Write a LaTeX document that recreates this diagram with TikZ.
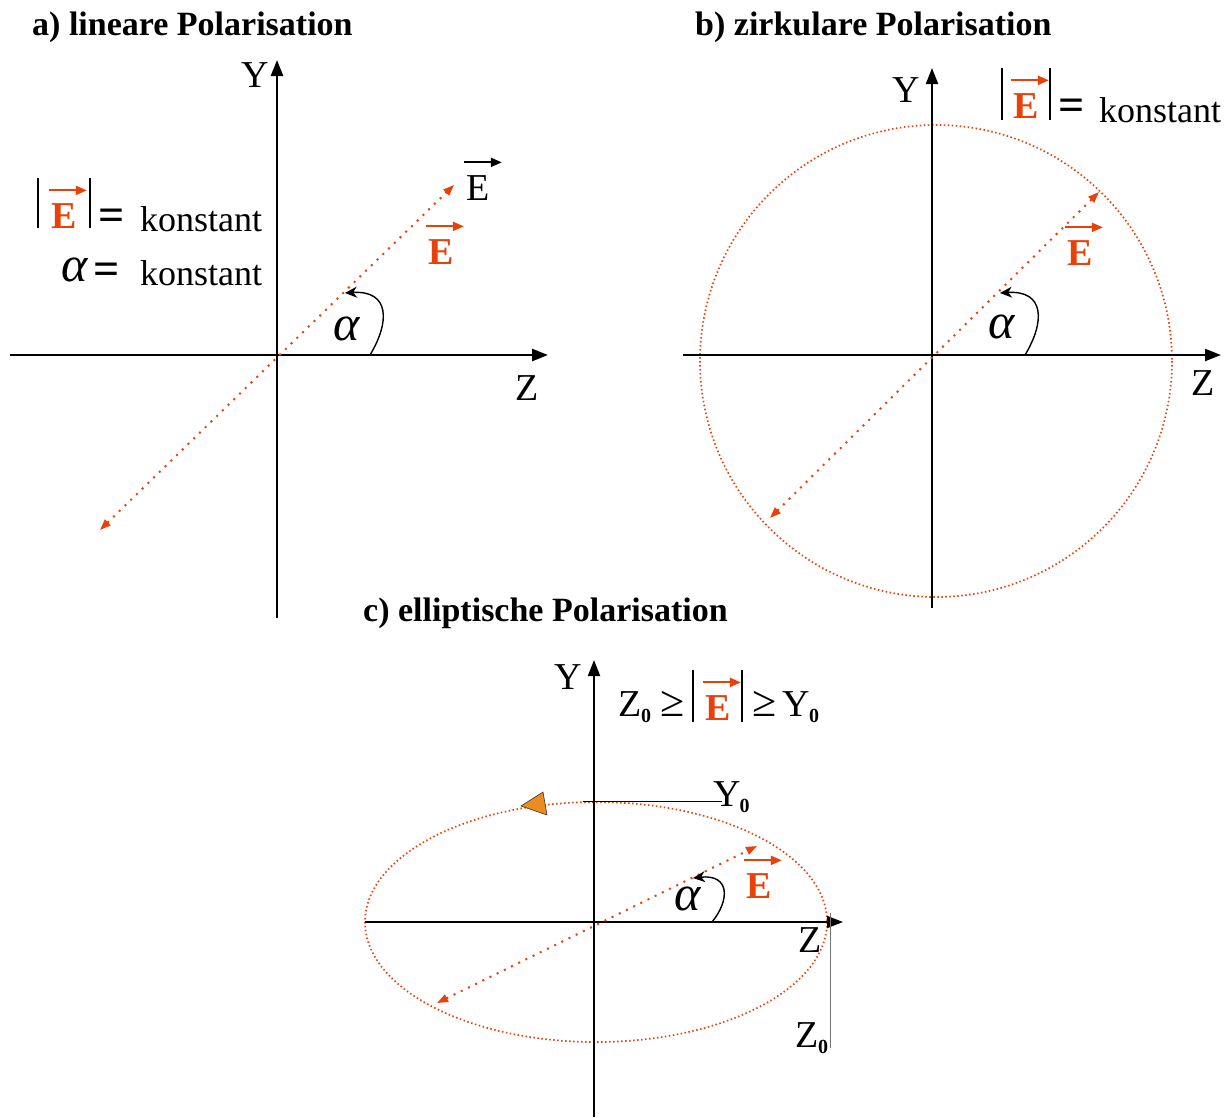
\documentclass[tikz,border=0pt]{standalone}
\usepackage{fontspec}
\setmainfont{Liberation Serif}
\usepackage{xcolor}
\usepackage{tikz}
\usetikzlibrary{arrows.meta, positioning, calc}
\definecolor{eRed}{RGB}{232,66,12}
\definecolor{tipOrange}{RGB}{234,140,32}
\newcommand{\subnull}{\kern-1pt\raisebox{-6pt}{\fontsize{20}{20}\selectfont\bfseries 0}}
\tikzset{
  title/.style={font=\fontsize{34}{38}\selectfont\bfseries, inner sep=0pt, anchor=west},
  axislabel/.style={font=\fontsize{38}{40}\selectfont, inner sep=0pt},
  txt/.style={font=\fontsize{36}{40}\selectfont, inner sep=0pt},
  eqsign/.style={font=\fontsize{46}{48}\selectfont\bfseries, inner sep=0pt},
  vecE/.style={font=\fontsize{38}{40}\selectfont\bfseries, text=eRed, inner sep=0pt},
  anglabel/.style={font=\fontsize{50}{52}\selectfont\itshape, inner sep=0pt},
  axis/.style={line width=2pt, -{Triangle[length=16pt,width=12pt]}},
  vecarrow/.style={eRed, line width=2pt, -{Triangle[length=11pt,width=9pt]}},
  field/.style={eRed, line width=2pt, dash pattern=on 2pt off 6pt,
    {Triangle[length=11pt,width=8pt]}-{Triangle[length=11pt,width=8pt]}},
  orbit/.style={eRed, line width=1.7pt, dash pattern=on 1.5pt off 2.5pt},
  angarrow/.style={line width=1.4pt, -{Stealth[length=12pt,width=11pt]}},
  absbar/.style={line width=2.2pt}
}
\begin{document}
\begin{tikzpicture}[x=1pt, y=-1pt]
  \useasboundingbox (0,0) rectangle (1225,1117);

  % === a) linear ===
  \node[title] (titleA) at (32,27) {a) lineare Polarisation};
  \coordinate (oA) at (277,355);
  \coordinate (aL) at (10,355);
  \coordinate (aR) at (548,355);
  \coordinate (aB) at (277,618);
  \coordinate (aT) at (277,60);
  \draw[axis, line width=2.6pt] (aL) -- (aR);
  \draw[axis, line width=2.6pt] (aB) -- (aT);
  \node[axislabel] (yA) at (255,75) {Y};
  \node[axislabel] (zA) at (527,388) {Z};

  \coordinate (fA1) at (100,530);
  \coordinate (fA2) at (454,185);
  \draw[field] (fA1) -- (fA2);

  \node[axislabel] (eBlackA) at (478,188) {E};
  \draw[line width=2.2pt, -{Triangle[length=11pt,width=9pt]}]
    ([xshift=-2pt,yshift=13pt]eBlackA.north west) -- ([xshift=12pt,yshift=13pt]eBlackA.north east);
  \node[vecE] (eRedA) at (441,252) {E};
  \draw[vecarrow] ([xshift=-2pt,yshift=13pt]eRedA.north west) -- ([xshift=10pt,yshift=13pt]eRedA.north east);

  \node[vecE] (eAbsA) at (64,216) {E};
  \draw[vecarrow] ([xshift=-2pt,yshift=13pt]eAbsA.north west) -- ([xshift=10pt,yshift=13pt]eAbsA.north east);
  \draw[absbar] (38,178) -- (38,228);
  \draw[absbar] (90,178) -- (90,228);
  \node[eqsign] (eqA) at (112,220) {=};
  \node[txt, anchor=base west] (konstA) at (140,231) {konstant};
  \node[anglabel] (alphaA) at (75,270) {α};
  \node[eqsign] (eqA2) at (107,274) {=};
  \node[txt, anchor=base west] (konstA2) at (140,285) {konstant};

  \node[anglabel] (angA) at (347,329) {α};
  \draw[angarrow] (370,355) .. controls (390,322) and (390,290) .. (345,293);

  % === b) circular ===
  \node[title] (titleB) at (695,27) {b) zirkulare Polarisation};
  \coordinate (oB) at (932,355);
  \coordinate (bL) at (683,355);
  \coordinate (bR) at (1221,355);
  \coordinate (bB) at (932,608);
  \coordinate (bT) at (932,68);
  \draw[orbit] (936,361) circle (236);
  \draw[axis] (bL) -- (bR);
  \draw[axis] (bB) -- (bT);
  \node[axislabel] (yB) at (906,90) {Y};
  \node[axislabel] (zB) at (1203,383) {Z};

  \coordinate (fB1) at (770,518);
  \coordinate (fB2) at (1099,192);
  \draw[field] (fB1) -- (fB2);
  \node[vecE] (eRedB) at (1080,253) {E};
  \draw[vecarrow] ([xshift=-2pt,yshift=13pt]eRedB.north west) -- ([xshift=10pt,yshift=13pt]eRedB.north east);

  \node[vecE] (eAbsB) at (1026,106) {E};
  \draw[vecarrow] ([xshift=-2pt,yshift=13pt]eAbsB.north west) -- ([xshift=10pt,yshift=13pt]eAbsB.north east);
  \draw[absbar] (1002,68) -- (1002,120);
  \draw[absbar] (1050,68) -- (1050,120);
  \node[eqsign] (eqB) at (1072,110) {=};
  \node[txt, anchor=base west] (konstB) at (1099,122) {konstant};

  \node[anglabel] (angB) at (1002,327) {α};
  \draw[angarrow] (1025,355) .. controls (1045,322) and (1045,290) .. (1000,293);

  % === c) elliptical ===
  \node[title] (titleC) at (363,613) {c) elliptische Polarisation};
  \coordinate (oC) at (594,922);
  \coordinate (cL) at (365,922);
  \coordinate (cR) at (843,922);
  \coordinate (cB) at (594,1117);
  \coordinate (cT) at (594,660);
  \draw[orbit] (596,922) ellipse (231 and 120);
  \draw[axis] (cL) -- (cR);
  \draw[axis] (cB) -- (cT);
  \node[axislabel] (yC) at (568,677) {Y};
  \node[axislabel] (zC) at (810,940) {Z};

  \coordinate (fC1) at (437,1003);
  \coordinate (fC2) at (757,846);
  \draw[field] (fC1) -- (fC2);
  \node[vecE] (eRedC) at (759,886) {E};
  \draw[vecarrow] ([xshift=-2pt,yshift=13pt]eRedC.north west) -- ([xshift=10pt,yshift=13pt]eRedC.north east);

  \node[anglabel] (angC) at (688,899) {α};
  \draw[angarrow] (712,922) .. controls (730,900) and (730,874) .. (693,878);

  \filldraw[fill=tipOrange, draw=black!80, line width=0.6pt]
    (521,806) -- (543,792) -- (547,815) -- cycle;

  % amplitudes
  \coordinate (y0Start) at (583,801);
  \node[axislabel, anchor=west] (y0C) at (713,797) {Y\subnull};
  \draw[line width=1pt] (y0Start) -- (722,801);
  \coordinate (z0Top) at (830,913);
  \node[axislabel] (z0C) at (812,1038) {Z\subnull};
  \draw[line width=1pt, black!55] (z0Top) -- (830,1048);

  % inequality
  \node[vecE] (eAbsC) at (718,708) {E};
  \draw[vecarrow] ([xshift=-2pt,yshift=13pt]eAbsC.north west) -- ([xshift=10pt,yshift=13pt]eAbsC.north east);
  \draw[absbar] (693,670) -- (693,722);
  \draw[absbar] (742,670) -- (742,722);
  \node[axislabel, anchor=east] (leqL) at (685,707) {Z\subnull\ \fontsize{44}{46}\selectfont ≥};
  \node[axislabel, anchor=west] (leqR) at (752,707) {\fontsize{44}{46}\selectfont ≥\fontsize{38}{40}\selectfont\,Y\subnull};
\end{tikzpicture}
\end{document}
